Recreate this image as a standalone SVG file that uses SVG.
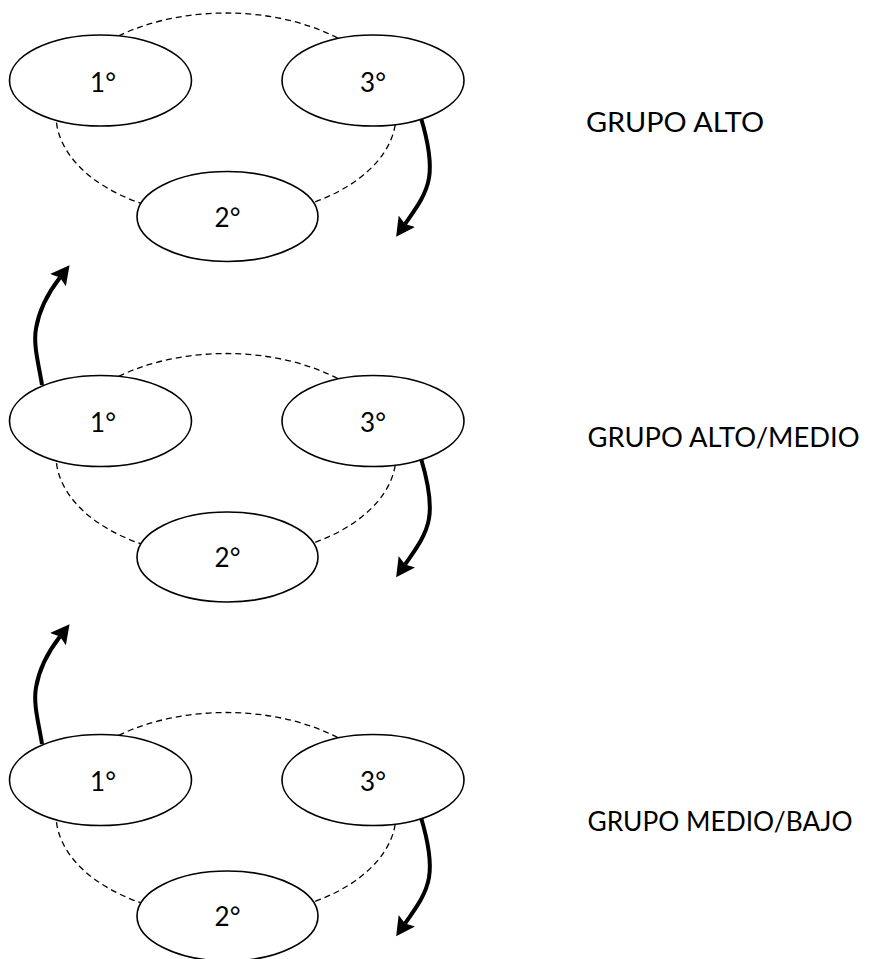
<svg xmlns="http://www.w3.org/2000/svg" width="869" height="959" viewBox="0 0 869 959">
  <style>
    .node { fill: #ffffff; stroke: #000000; stroke-width: 1.6; }
    .ring { fill: none; stroke: #000000; stroke-width: 1.3; stroke-dasharray: 6 4; }
    .arrow { fill: none; stroke: #000000; stroke-width: 4; marker-end: url(#head); }
    .num { font-family: Lato, "Open Sans", "Liberation Sans", sans-serif; font-size: 26px; fill: #000000; text-anchor: middle; }
    .lbl { font-family: Lato, "Open Sans", "Liberation Sans", sans-serif; font-size: 26px; fill: #000000; }
  </style>
  <defs>
    <marker id="head" markerUnits="userSpaceOnUse" markerWidth="20" markerHeight="20" refX="3" refY="9" orient="auto" viewBox="0 0 18 18">
      <path d="M0,0 L17,9 L0,18 L3,9 z" fill="#000000"/>
    </marker>
  </defs>
  <rect width="869" height="959" fill="#ffffff"/>

  <g id="connectors">
    <g transform="translate(0,0)">
      <ellipse class="ring" cx="226" cy="115" rx="170" ry="102"/>
      <path class="arrow" d="M421,118 C427,138 432,160 429,178 C426,196 414,211 405,224"/>
    </g>
    <g transform="translate(0,340.5)">
      <ellipse class="ring" cx="226" cy="115" rx="170" ry="102"/>
      <path class="arrow" d="M421,118 C427,138 432,160 429,178 C426,196 414,211 405,224"/>
      <path class="arrow" d="M42,44.5 C39,25 33,5 36,-12 C39,-30 46,-45 60,-63"/>
    </g>
    <g transform="translate(0,699.5)">
      <ellipse class="ring" cx="226" cy="115" rx="170" ry="102"/>
      <path class="arrow" d="M421,118 C427,138 432,160 429,178 C426,196 414,211 405,224"/>
      <path class="arrow" d="M42,44.5 C39,25 33,5 36,-12 C39,-30 46,-45 60,-63"/>
    </g>
  </g>

  <g id="grupo-alto" transform="translate(0,0)">
    <g id="alto-1"><ellipse class="node" cx="100.5" cy="80.5" rx="91" ry="45.5"/><text class="num" x="103" y="91.5">1°</text></g>
    <g id="alto-3"><ellipse class="node" cx="373" cy="80.5" rx="91" ry="45.5"/><text class="num" x="373" y="91.5">3°</text></g>
    <g id="alto-2"><ellipse class="node" cx="227.5" cy="216.5" rx="90.5" ry="45"/><text class="num" x="227.5" y="226.5">2°</text></g>
  </g>
  <g id="grupo-alto-medio" transform="translate(0,340.5)">
    <g id="altomedio-1"><ellipse class="node" cx="100.5" cy="80.5" rx="91" ry="45.5"/><text class="num" x="103" y="91.5">1°</text></g>
    <g id="altomedio-3"><ellipse class="node" cx="373" cy="80.5" rx="91" ry="45.5"/><text class="num" x="373" y="91.5">3°</text></g>
    <g id="altomedio-2"><ellipse class="node" cx="227.5" cy="216.5" rx="90.5" ry="45"/><text class="num" x="227.5" y="226.5">2°</text></g>
  </g>
  <g id="grupo-medio-bajo" transform="translate(0,699.5)">
    <g id="mediobajo-1"><ellipse class="node" cx="100.5" cy="80.5" rx="91" ry="45.5"/><text class="num" x="103" y="91.5">1°</text></g>
    <g id="mediobajo-3"><ellipse class="node" cx="373" cy="80.5" rx="91" ry="45.5"/><text class="num" x="373" y="91.5">3°</text></g>
    <g id="mediobajo-2"><ellipse class="node" cx="227.5" cy="216.5" rx="90.5" ry="45"/><text class="num" x="227.5" y="226.5">2°</text></g>
  </g>

  <g id="labels">
    <text class="lbl" x="586" y="131.5" textLength="178" lengthAdjust="spacingAndGlyphs">GRUPO ALTO</text>
    <text class="lbl" x="587.5" y="446.5" textLength="272" lengthAdjust="spacingAndGlyphs">GRUPO ALTO/MEDIO</text>
    <text class="lbl" x="587.5" y="831" textLength="265" lengthAdjust="spacingAndGlyphs">GRUPO MEDIO/BAJO</text>
  </g>
</svg>
